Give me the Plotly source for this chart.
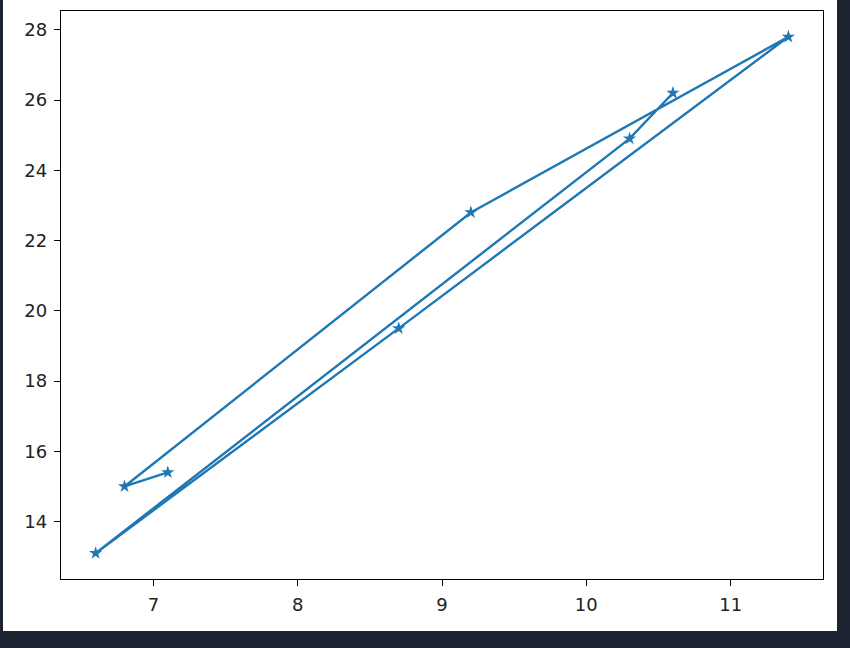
import plotly.graph_objects as go

x_vals = [7.1, 6.8, 9.2, 11.4, 8.7, 6.6, 10.3, 10.6]
y_vals = [15.4, 15.0, 22.8, 27.8, 19.5, 13.1, 24.9, 26.2]
x_ticks = [7, 8, 9, 10, 11]
y_ticks = [14, 16, 18, 20, 22, 24, 26, 28]

W, H = 850, 648
L, R, T, B = 61, 27, 11, 69
pw = W - L - R
ph = H - T - B

fig = go.Figure()
fig.add_trace(go.Scatter(
    x=x_vals, y=y_vals, mode="lines+markers",
    line=dict(color="#1f77b4", width=2.4),
    marker=dict(symbol="star", size=10, color="#1f77b4", line=dict(width=0)),
    showlegend=False,
))

# white figure area on dark page
fig.add_shape(type="rect", xref="paper", yref="paper",
              x0=(3 - L) / pw, x1=(837 - L) / pw,
              y0=(H - B - 631) / ph, y1=1 + T / ph,
              fillcolor="white", line=dict(width=0), layer="below")

axis_common = dict(
    showgrid=False, zeroline=False, showline=True, linecolor="black",
    linewidth=1.4, mirror=True, ticks="outside", ticklen=6, tickwidth=1.4,
    tickcolor="black", tickfont=dict(family="DejaVu Sans", size=18, color="#222"),
)
fig.update_xaxes(range=[6.36, 11.64], tickvals=x_ticks, ticklabelstandoff=3, **axis_common)
fig.update_yaxes(range=[12.365, 28.535], tickvals=y_ticks, ticklabelstandoff=3, **axis_common)

fig.update_layout(
    width=W, height=H,
    margin=dict(l=L, r=R, t=T, b=B, pad=0),
    paper_bgcolor="#1b2430", plot_bgcolor="white",
)
fig.write_html("out.html", config={"displayModeBar": False},
               post_script="document.body.style.margin='0';document.body.style.background='#1b2430';")
